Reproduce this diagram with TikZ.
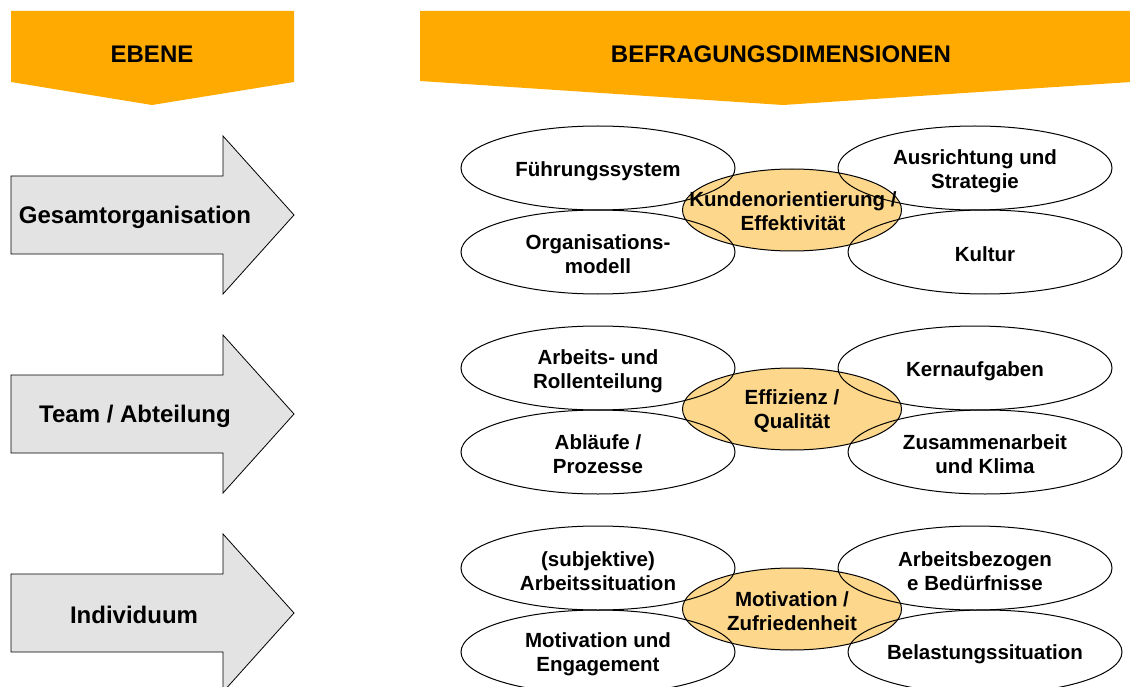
\documentclass[tikz,border=0pt]{standalone}
\usepackage{fontspec}
\setmainfont{Liberation Sans}
\usetikzlibrary{shapes.geometric}
\definecolor{hdr}{RGB}{255,170,0}
\definecolor{core}{RGB}{253,215,140}
\definecolor{arrowgray}{RGB}{227,227,227}
\begin{document}
\begin{tikzpicture}[x=1pt,y=-1pt,
  hdrshape/.style={fill=hdr,draw=none},
  lvlarrow/.style={fill=arrowgray,draw=black,line width=0.8pt,line join=miter},
  lbl/.style={font=\fontsize{24}{28}\selectfont\bfseries,inner sep=0pt},
  dim/.style={ellipse,draw=black,line width=1pt,minimum width=274pt,minimum height=84pt,inner sep=0pt},
  dimtext/.style={align=center,inner sep=0pt,font=\fontsize{20.5}{24.5}\selectfont\bfseries},
  coredim/.style={ellipse,draw=black,line width=1pt,fill=core,minimum width=219pt,minimum height=82pt,inner sep=0pt}]
\useasboundingbox (0,0) rectangle (1130,687);

% headers
\fill[hdrshape] (11,11) -- (294,11) -- (294,82) -- (152,105) -- (11,82) -- cycle;
\node[lbl] (hEbene) at (152,54) {EBENE};
\fill[hdrshape] (420,11) -- (1146,11) -- (1146,81) -- (783,105) -- (420,81) -- cycle;
\node[lbl] (hDim) at (781,54) {BEFRAGUNGSDIMENSIONEN};

% level arrows
\foreach \c in {215,414,613}{
  \filldraw[lvlarrow] (11,\c-39) -- (223,\c-39) -- (223,\c-79) -- (294,\c) -- (223,\c+79) -- (223,\c+39) -- (11,\c+39) -- cycle;
}
\node[lbl] (lGes) at (135,217) {Gesamtorganisation};
\node[lbl] (lTeam) at (135,416) {Team / Abteilung};
\node[lbl] (lInd) at (134,615) {Individuum};

% cluster 1
\node[coredim] (c1) at (792,210) {};
\node[dim] (c1tl) at (598,168) {};
\node[dim] (c1tr) at (975,168) {};
\node[dim] (c1bl) at (598,252) {};
\node[dim] (c1br) at (985,252) {};
\node[dimtext] (x1tl) at ([yshift=-3pt]c1tl) {Führungssystem};
\node[dimtext] (x1tr) at ([yshift=-3pt]c1tr) {Ausrichtung und\\Strategie};
\node[dimtext] (x1bl) at ([yshift=-2pt]c1bl) {Organisations-\\modell};
\node[dimtext] (x1br) at ([yshift=-2pt]c1br) {Kultur};
\node[dimtext] (t1) at (793,211) {Kundenorientierung /\\Effektivität};

% cluster 2
\node[coredim] (c2) at (792,409) {};
\node[dim] (c2tl) at (598,368) {};
\node[dim] (c2tr) at (975,368) {};
\node[dim] (c2bl) at (598,452) {};
\node[dim] (c2br) at (985,452) {};
\node[dimtext] (x2tl) at ([yshift=-3pt]c2tl) {Arbeits- und\\Rollenteilung};
\node[dimtext] (x2tr) at ([yshift=-3pt]c2tr) {Kernaufgaben};
\node[dimtext] (x2bl) at ([yshift=-2pt]c2bl) {Abläufe /\\Prozesse};
\node[dimtext] (x2br) at ([yshift=-2pt]c2br) {Zusammenarbeit\\und Klima};
\node[dimtext] (t2) at (792,411) {Effizienz /\\Qualität};

% cluster 3
\node[coredim] (c3) at (792,609) {};
\node[dim] (c3tl) at (598,568) {};
\node[dim] (c3tr) at (975,568) {};
\node[dim] (c3bl) at (598,652) {};
\node[dim] (c3br) at (985,652) {};
\node[dimtext] (x3tl) at ([yshift=-3pt]c3tl) {(subjektive)\\Arbeitssituation};
\node[dimtext] (x3tr) at ([yshift=-3pt]c3tr) {Arbeitsbezogen\\e Bedürfnisse};
\node[dimtext] (x3bl) at ([yshift=-2pt]c3bl) {Motivation und\\Engagement};
\node[dimtext] (x3br) at ([yshift=-2pt]c3br) {Belastungssituation};
\node[dimtext] (t3) at (792,611) {Motivation /\\Zufriedenheit};
\end{tikzpicture}
\end{document}
